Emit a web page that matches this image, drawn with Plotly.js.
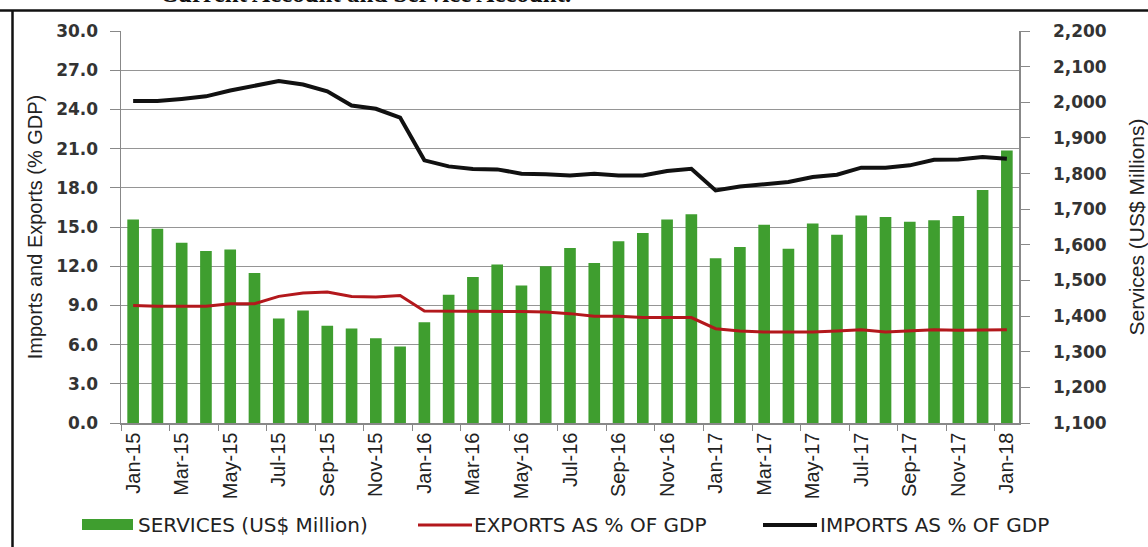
<!DOCTYPE html>
<html>
<head>
<meta charset="utf-8">
<script src="https://cdn.plot.ly/plotly-3.0.1.min.js"></script>
<style>html,body{margin:0;padding:0;background:#fff;}#chart{width:1148px;height:547px;}</style>
</head>
<body>
<div id="chart"></div>
<script>
const months = ["Jan-15","Feb-15","Mar-15","Apr-15","May-15","Jun-15","Jul-15","Aug-15","Sep-15","Oct-15","Nov-15","Dec-15",
"Jan-16","Feb-16","Mar-16","Apr-16","May-16","Jun-16","Jul-16","Aug-16","Sep-16","Oct-16","Nov-16","Dec-16",
"Jan-17","Feb-17","Mar-17","Apr-17","May-17","Jun-17","Jul-17","Aug-17","Sep-17","Oct-17","Nov-17","Dec-17","Jan-18"];

const services = [1671,1645,1606,1583,1587,1521,1393,1416,1373,1365,1338,1315,
1383,1460,1510,1545,1486,1540,1591,1549,1610,1633,1671,1686,
1562,1594,1656,1589,1660,1628,1682,1678,1665,1669,1681,1754,1865];

const exportsPct = [9.0,8.93,8.93,8.93,9.13,9.13,9.69,9.95,10.02,9.69,9.64,9.75,
8.57,8.57,8.57,8.57,8.53,8.49,8.37,8.17,8.17,8.07,8.07,8.07,
7.22,7.04,6.96,6.96,6.96,7.04,7.14,6.96,7.04,7.14,7.09,7.14,7.14];

const importsPct = [24.64,24.64,24.8,25.0,25.45,25.84,26.17,25.9,25.38,24.3,24.05,23.37,
20.1,19.64,19.44,19.41,19.08,19.03,18.95,19.08,18.95,18.95,19.28,19.46,
17.8,18.1,18.3,18.44,18.82,19.0,19.54,19.54,19.72,20.15,20.17,20.35,20.23];

const seriesNames = ["SERVICES (US$ Million)","EXPORTS AS % OF GDP","IMPORTS AS % OF GDP"];
const seriesColors = ["#3f9e2f","#b3181c","#111111"];

const narrow = "Liberation Sans Narrow, Arial Narrow, sans-serif";
const tickBold = "DejaVu Sans, Verdana, sans-serif";

const traces = [
  {type:"bar", x:months, y:services, name:seriesNames[0], yaxis:"y",
   marker:{color:seriesColors[0]}, width:0.48},
  {type:"scatter", mode:"lines", x:months, y:exportsPct, name:seriesNames[1], yaxis:"y2",
   line:{color:seriesColors[1], width:3}},
  {type:"scatter", mode:"lines", x:months, y:importsPct, name:seriesNames[2], yaxis:"y2",
   line:{color:seriesColors[2], width:4}}
];

// plot area geometry (pixels) used only to place the hand-drawn legend and frame
const L = 121, PW = 898, T = 31, PH = 392;
const px = v => (v - L) / PW;
const py = v => 1 - (v - T) / PH;

const legendY = py(525);
const legendFont = {family:"DejaVu Sans, Verdana, sans-serif", size:20, color:"#222"};

const layout = {
  width:1148, height:547,
  margin:{l:L, r:1148-L-PW, t:T, b:547-T-PH},
  paper_bgcolor:"#ffffff", plot_bgcolor:"#ffffff",
  showlegend:false,
  xaxis:{type:"category", range:[-0.5,36.5], tickmode:"linear", tick0:0, dtick:2, automargin:false,
         tickangle:-90, tickson:"boundaries", ticks:"outside", ticklen:6, tickcolor:"#888",
         showline:true, linecolor:"#888", linewidth:1.5, showgrid:false,
         tickfont:{family:narrow, size:20, color:"#222"}},
  yaxis:{side:"right", range:[1100,2200], dtick:100, tickformat:",d", automargin:false,
         showgrid:false, zeroline:false, showline:true, linecolor:"#888", linewidth:1.5,
         ticks:"outside", ticklen:9, tickcolor:"#888", ticklabelstandoff:20,
         tickfont:{family:tickBold, size:17, color:"#333", weight:"bold"},
         title:{text:"Services (US$ Millions)", standoff:26,
                font:{family:narrow, size:21, color:"#222"}}},
  yaxis2:{overlaying:"y", side:"left", range:[0,30], dtick:3, tickformat:".1f", automargin:false,
          showgrid:true, gridcolor:"#959595", gridwidth:1, zeroline:false,
          showline:true, linecolor:"#888", linewidth:1.5,
          ticks:"outside", ticklen:10, tickcolor:"#888", ticklabelstandoff:8,
          tickfont:{family:tickBold, size:17, color:"#333", weight:"bold"},
          title:{text:"Imports and Exports (% GDP)", standoff:8,
                 font:{family:narrow, size:20, color:"#222"}}},
  shapes:[
    {type:"line", xref:"paper", yref:"paper", x0:px(0), x1:px(1148), y0:py(10.5), y1:py(10.5),
     line:{color:"#111", width:2.5}},
    {type:"line", xref:"paper", yref:"paper", x0:px(12.5), x1:px(12.5), y0:py(10.5), y1:py(547),
     line:{color:"#111", width:2.5}},
    // legend swatches
    {type:"rect", xref:"paper", yref:"paper", x0:px(82), x1:px(133), y0:py(519), y1:py(530),
     fillcolor:seriesColors[0], line:{width:0}},
    {type:"line", xref:"paper", yref:"paper", x0:px(418), x1:px(472), y0:legendY, y1:legendY,
     line:{color:seriesColors[1], width:3}},
    {type:"line", xref:"paper", yref:"paper", x0:px(763), x1:px(817), y0:legendY, y1:legendY,
     line:{color:seriesColors[2], width:4}}
  ],
  annotations:[
    {xref:"paper", yref:"paper", x:px(158), xanchor:"left", y:py(9), yanchor:"bottom",
     text:"Current Account and Service Account.", showarrow:false,
     font:{family:"Liberation Serif, DejaVu Serif, serif", size:25, color:"#111", weight:"bold"}},
    {xref:"paper", yref:"paper", x:px(136), xanchor:"left", y:legendY, yanchor:"middle",
     text:seriesNames[0], showarrow:false, font:legendFont},
    {xref:"paper", yref:"paper", x:px(472), xanchor:"left", y:legendY, yanchor:"middle",
     text:seriesNames[1], showarrow:false, font:legendFont},
    {xref:"paper", yref:"paper", x:px(818), xanchor:"left", y:legendY, yanchor:"middle",
     text:seriesNames[2], showarrow:false, font:legendFont}
  ]
};

Plotly.newPlot("chart", traces, layout, {displayModeBar:false, staticPlot:true});
</script>
</body>
</html>
